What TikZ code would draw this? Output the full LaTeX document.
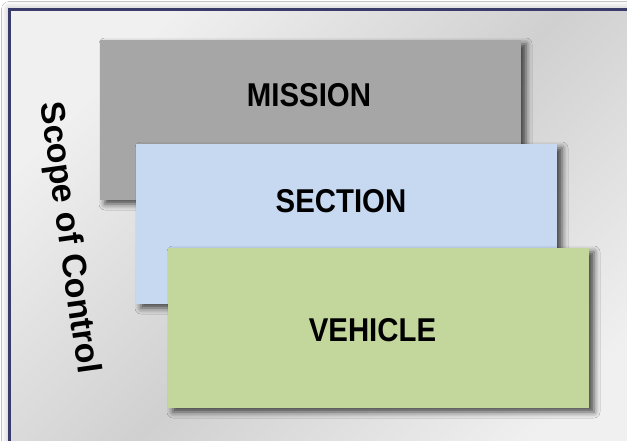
\documentclass[tikz,border=0pt]{standalone}
\usepackage{fontspec}
\setmainfont{Liberation Sans}
\usepackage{graphicx}
\usetikzlibrary{shadows.blur}

\definecolor{framenavy}{HTML}{3B3B6B}
\definecolor{framelight}{HTML}{F0F0F0}
\definecolor{framemid}{HTML}{D0D0D0}
\definecolor{missiongray}{HTML}{A6A6A6}
\definecolor{sectionblue}{HTML}{C6D9F1}
\definecolor{vehiclegreen}{HTML}{C3D69B}

\newcommand{\squeezed}[1]{\scalebox{0.89}[1]{#1}}

\tikzset{
  layerbox/.style={rectangle, draw=none, inner sep=0pt,
    minimum width=421pt, minimum height=160pt,
    blur shadow={shadow xshift=5pt, shadow yshift=-4pt,
      shadow blur radius=6pt, shadow opacity=70}},
  layerlabel/.style={inner sep=0pt, font=\fontsize{33}{36}\selectfont\bfseries},
  scopelabel/.style={inner sep=0pt, font=\fontsize{34}{38}\selectfont\bfseries},
}

\begin{document}
\begin{tikzpicture}[x=1pt, y=-1pt]
  \useasboundingbox (0,0) rectangle (627,441);
  \fill[white] (0,0) rectangle (627,441);
  % frame
  \path[draw=framenavy, line width=3pt, top color=framelight,
    bottom color=framelight, middle color=framemid, shading angle=45,
    blur shadow={shadow xshift=0pt, shadow yshift=0pt,
      shadow blur radius=8pt, shadow opacity=35}]
    (9.5,9.5) rectangle (660,475);
  \node[scopelabel, rotate=-82] (scope) at (68,238) {Scope of Control};
  % layers
  \node[layerbox, fill=missiongray] (mission) at (310.5,120) {};
  \node[layerlabel] (missionlbl) at (309,95) {\squeezed{MISSION}};
  \node[layerbox, fill=sectionblue] (section) at (346.5,224) {};
  \node[layerlabel] (sectionlbl) at (341,201) {\squeezed{SECTION}};
  \node[layerbox, fill=vehiclegreen] (vehicle) at (378.5,328) {};
  \node[layerlabel] (vehiclelbl) at (372.5,330) {\squeezed{VEHICLE}};
\end{tikzpicture}
\end{document}
